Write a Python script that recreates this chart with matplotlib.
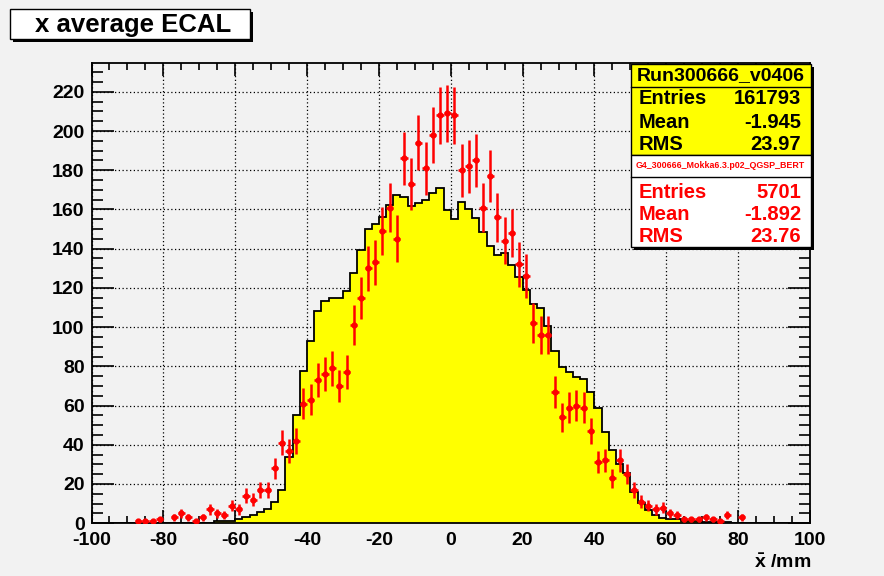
import numpy as np
import matplotlib
matplotlib.use('Agg')
import matplotlib.pyplot as plt
from matplotlib.patches import Rectangle
from matplotlib.ticker import MultipleLocator

plt.rcParams['font.family'] = ['Liberation Sans', 'DejaVu Sans']
plt.rcParams['font.weight'] = 'bold'
plt.rcParams['axes.unicode_minus'] = False
plt.rcParams['mathtext.fontset'] = 'custom'
plt.rcParams['mathtext.rm'] = 'Liberation Sans:bold'
plt.rcParams['mathtext.bf'] = 'Liberation Sans:bold'

# binning: 100 bins from -100 to 100 mm
bin_edges = np.linspace(-100, 100, 101)

# data histogram (normalised), bin by bin
data_hist = [
    0, 0, 0, 0, 0, 0, 0, 0, 0, 0,
    0.3, 0.3, 0.3, 0.3, 0.3, 0.3, 0.3, 1.1, 1.1, 1.1,
    2.0, 3.3, 4.2, 5.6, 7.0, 10.6, 17.0, 33.6, 55.3, 77.7,
    93.0, 108.2, 113.5, 114.8, 114.8, 118.6, 127.5, 139.1, 150.2, 152.7,
    156.3, 162.4, 167.5, 166.5, 162.0, 163.2, 164.6, 168.2, 171.2, 159.8,
    155.2, 163.8, 160.2, 155.6, 148.4, 141.2, 136.7, 138.0, 131.6, 125.7,
    118.8, 111.8, 110.0, 100.6, 88.0, 79.8, 77.0, 74.6, 73.6, 66.7,
    58.6, 46.7, 37.4, 30.0, 25.5, 16.1, 10.1, 6.8, 4.0, 2.5,
    2.0, 2.0, 1.3, 1.3, 1.3, 0.8, 0.8, 0.6, 0.4, 0.3,
    0.3, 0, 0, 0, 0, 0, 0, 0, 0, 0,
]

# simulation counts (G4 / Mokka)
mc_counts = [
    0, 0, 0, 0, 0, 0, 1, 1, 1, 2,
    0, 3, 5, 3, 1, 3, 7, 5, 4, 9,
    7, 14, 12, 17, 17, 28, 41, 37, 42, 61,
    63, 73, 76, 79, 70, 77, 101, 115, 130, 133,
    149, 161, 145, 186, 173, 194, 181, 198, 208, 209,
    208, 180, 182, 185, 161, 177, 156, 144, 148, 132,
    126, 102, 96, 96, 67, 54, 59, 60, 59, 47,
    31, 32, 23, 32, 25, 17, 11, 9, 7, 8,
    5, 4, 2, 2, 2, 3, 2, 1, 4, 0,
    3, 0, 0, 0, 0, 0, 0, 0, 0, 0,
]

title = 'x average ECAL'
stats_data = ('Run300666_v0406', [('Entries', '161793'), ('Mean', '-1.945'), ('RMS', '23.97')])
stats_mc = ('G4_300666_Mokka6.3.p02_QGSP_BERT', [('Entries', '5701'), ('Mean', '-1.892'), ('RMS', '23.76')])

W, H = 884, 576
BG = '#f2f2f2'


def fx(px):
    return px / W


def fy(py):
    return 1 - py / H


fig = plt.figure(figsize=(W / 100, H / 100), dpi=100, facecolor=BG)
ax = fig.add_axes([fx(91.5), fy(523.2), (810 - 91.5) / W, (523.2 - 63) / H])
ax.set_facecolor(BG)

centers = 0.5 * (bin_edges[:-1] + bin_edges[1:])
mc = np.array(mc_counts, dtype=float)
mc_err = np.sqrt(mc)  # Poisson errors, as ROOT draws them
m = mc > 0

ax.stairs(data_hist, bin_edges, fill=True, color='#ffff00', zorder=2)
ax.stairs(data_hist, bin_edges, color='black', lw=1.3, zorder=3)
ax.errorbar(centers[m], mc[m], xerr=1.0, yerr=mc_err[m], fmt='o', color='#ff0000',
            ms=3.5, elinewidth=1.8, capsize=0, zorder=4)

ax.set_xlim(-100, 100)
ax.set_ylim(0, 234.7)
ax.xaxis.set_major_locator(MultipleLocator(20))
ax.xaxis.set_minor_locator(MultipleLocator(5))
ax.yaxis.set_major_locator(MultipleLocator(20))
ax.yaxis.set_minor_locator(MultipleLocator(5))
ax.tick_params(which='both', direction='in', top=True, right=True, color='black', width=1.2)
ax.tick_params(axis='x', which='major', length=9.5, labelsize=14, pad=6.5)
ax.tick_params(axis='x', which='minor', length=4.8)
ax.tick_params(axis='y', which='major', length=16, labelsize=14, pad=5)
ax.tick_params(axis='y', which='minor', length=7.8)
ax.grid(True, which='major', linestyle=(0, (1, 2)), color='black', lw=0.9)
ax.set_axisbelow(True)
for s in ax.spines.values():
    s.set_linewidth(1.3)

fig.text(fx(811), fy(563), r'$\bar{\mathbf{x}}$ /mm', ha='right', va='center', fontsize=14, fontweight='bold')

# title box with shadow
fig.patches.append(Rectangle((fx(13), fy(42)), fx(240), 30 / H, transform=fig.transFigure,
                             facecolor='black', edgecolor='none', zorder=5))
fig.patches.append(Rectangle((fx(10), fy(39)), fx(240), 30 / H, transform=fig.transFigure,
                             facecolor='white', edgecolor='black', lw=1, zorder=6))
fig.text(fx(133), fy(25), title, ha='center', va='center', fontsize=18.5, fontweight='bold', zorder=7)

# stats boxes
bx0, bx1 = 631, 810.5
fig.patches.append(Rectangle((fx(bx0 + 3), fy(249.7)), fx(bx1 - bx0), (249.7 - 67) / H,
                             transform=fig.transFigure, facecolor='black', edgecolor='none', zorder=5))
fig.patches.append(Rectangle((fx(bx0), fy(155)), fx(bx1 - bx0), (155 - 64) / H,
                             transform=fig.transFigure, facecolor='#ffff00', edgecolor='black', lw=1, zorder=6))
fig.patches.append(Rectangle((fx(bx0), fy(246.7)), fx(bx1 - bx0), (246.7 - 155) / H,
                             transform=fig.transFigure, facecolor='white', edgecolor='black', lw=1, zorder=6))
fig.lines.append(plt.Line2D([fx(bx0), fx(bx1)], [fy(86.7), fy(86.7)], transform=fig.transFigure,
                            color='black', lw=1, zorder=7))
fig.lines.append(plt.Line2D([fx(bx0), fx(bx1)], [fy(177.3), fy(177.3)], transform=fig.transFigure,
                            color='black', lw=1, zorder=7))

fig.text(fx(720.5), fy(75.5), stats_data[0], ha='center', va='center', fontsize=14, zorder=8)
for (name, val), yy in zip(stats_data[1], [99, 122.3, 145]):
    fig.text(fx(639), fy(yy), name, ha='left', va='center', fontsize=14.5, zorder=8)
    fig.text(fx(801), fy(yy), val, ha='right', va='center', fontsize=14.5, zorder=8)

fig.text(fx(720.5), fy(166), stats_mc[0], ha='center', va='center', fontsize=6.4, color='#ff0000', zorder=8)
for (name, val), yy in zip(stats_mc[1], [192.3, 214.3, 236.7]):
    fig.text(fx(639), fy(yy), name, ha='left', va='center', fontsize=14.5, color='#ff0000', zorder=8)
    fig.text(fx(801), fy(yy), val, ha='right', va='center', fontsize=14.5, color='#ff0000', zorder=8)

fig.savefig('out.png', dpi=100, facecolor=BG)
